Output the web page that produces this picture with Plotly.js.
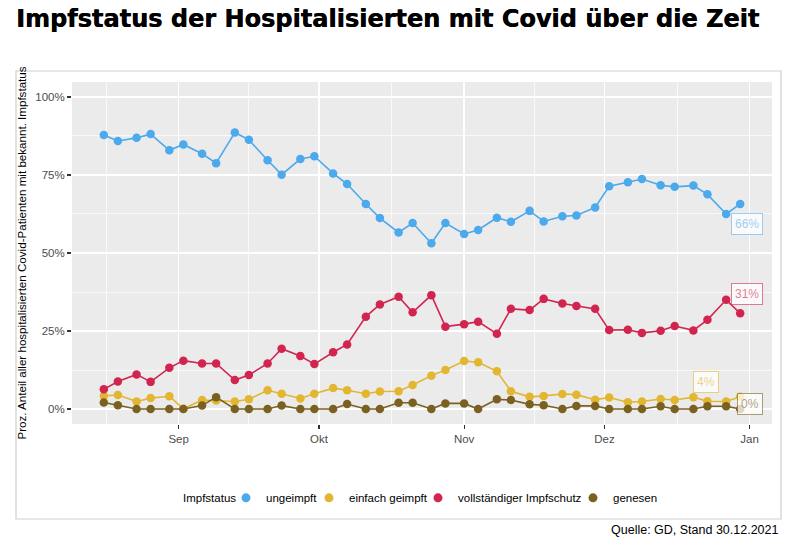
<!DOCTYPE html>
<html>
<head>
<meta charset="utf-8">
<script src="https://cdn.plot.ly/plotly-3.0.1.min.js"></script>
<style>html,body{margin:0;padding:0;background:#fff;}#chart{width:800px;height:540px;}</style>
</head>
<body>
<div id="chart"></div>
<script>
const dates = ['2021-08-16','2021-08-19','2021-08-23','2021-08-26','2021-08-30','2021-09-02','2021-09-06','2021-09-09','2021-09-13','2021-09-16','2021-09-20','2021-09-23','2021-09-27','2021-09-30','2021-10-04','2021-10-07','2021-10-11','2021-10-14','2021-10-18','2021-10-21','2021-10-25','2021-10-28','2021-11-01','2021-11-04','2021-11-08','2021-11-11','2021-11-15','2021-11-18','2021-11-22','2021-11-25','2021-11-29','2021-12-02','2021-12-06','2021-12-09','2021-12-13','2021-12-16','2021-12-20','2021-12-23','2021-12-27','2021-12-30'];

const ungeimpft = [87.8,85.9,86.9,88.1,82.9,84.8,81.8,78.8,88.6,86.3,79.7,75.1,80.1,81.0,75.5,72.1,65.7,61.2,56.6,59.6,53.1,59.6,56.1,57.4,61.3,60.0,63.5,60.1,61.8,62.0,64.6,71.4,72.7,73.7,71.7,71.2,71.6,68.8,62.5,65.7];
const einfachGeimpft = [4.2,4.5,2.4,3.5,4.1,0.1,2.9,2.7,2.4,3.1,6.0,4.9,3.4,4.9,6.7,6.0,4.9,5.6,5.7,7.7,10.7,12.5,15.4,15.0,12.1,5.7,3.9,4.2,4.8,4.6,3.0,3.7,2.2,2.4,3.2,2.9,3.8,2.5,2.4,3.9];
const vollstaendig = [6.3,8.8,11.1,8.7,13.2,15.5,14.6,14.6,9.3,10.9,14.6,19.3,17.0,14.4,18.2,20.7,29.6,33.5,36.0,31.0,36.5,26.4,27.2,28.0,24.1,32.1,31.7,35.3,33.8,33.0,32.1,25.3,25.4,24.4,25.1,26.6,25.2,28.6,35.0,30.7];
const genesen = [2.1,1.2,0,0,0,0,1.1,3.8,0,0,0,1.1,0,0,0,1.6,0,0,2.0,2.0,0,1.8,1.8,0,3.1,2.9,1.5,1.2,0,1.0,1.0,0,0,0,0.9,0,0,0.9,0.9,0];

const seriesNames = ['ungeimpft','einfach geimpft','vollständiger Impfschutz','genesen'];
const seriesValues = [ungeimpft, einfachGeimpft, vollstaendig, genesen];
const colors = ['#4BA9EC','#E2B630','#D1244F','#7B6121'];
const fadedColors = ['rgba(75,169,236,0.55)','rgba(226,182,48,0.6)','rgba(209,36,79,0.6)','rgba(123,97,33,0.6)'];
const labelShift = [[7,-20],[-34,15],[7,19],[10,5]];

const yTickVals = [0,25,50,75,100];
const yTickText = ['0%','25%','50%','75%','100%'];
const yMinor = [12.5,37.5,62.5,87.5];
const xTickVals = ['2021-09-01','2021-10-01','2021-11-01','2021-12-01','2022-01-01'];
const xTickText = ['Sep','Okt','Nov','Dez','Jan'];
const xMinor = ['2021-08-16 12:00','2021-09-16','2021-10-16 12:00','2021-11-16','2021-12-16 12:00'];

const FONT = 'Liberation Sans, Arial, Helvetica, sans-serif';
const legendIds = ['legend','legend2','legend3','legend4'];
const legendLeftPx = [226, 309, 418, 573];

const traces = [];
seriesNames.forEach((name, i) => {
  traces.push({
    x: dates, y: seriesValues[i], name: name, type: 'scatter', mode: 'lines+markers',
    line: {color: colors[i], width: 1.6},
    marker: {color: colors[i], size: 8.5},
    showlegend: false, hoverinfo: 'skip'
  });
});
seriesNames.forEach((name, i) => {
  traces.push({
    x: [null], y: [null], name: name, type: 'scatter', mode: 'markers',
    marker: {color: colors[i], size: 9}, showlegend: true, legend: legendIds[i]
  });
});

const last = dates.length - 1;
const annotations = seriesNames.map((name, i) => ({
  x: dates[last], y: seriesValues[i][last], xref: 'x', yref: 'y',
  text: Math.round(seriesValues[i][last]) + '%',
  showarrow: false, xshift: labelShift[i][0], yshift: labelShift[i][1],
  font: {family: FONT, size: 12, color: fadedColors[i]},
  bgcolor: 'rgba(255,255,255,0.75)', bordercolor: fadedColors[i], borderwidth: 1, borderpad: 3
}));
annotations.push({
  xref: 'paper', yref: 'paper', x: 1.0129, y: -0.31, xanchor: 'right', yanchor: 'middle',
  text: 'Quelle: GD, Stand 30.12.2021', showarrow: false,
  font: {family: FONT, size: 12.5, color: '#000'}
});
annotations.push({
  xref: 'paper', yref: 'paper', x: (181 - 72) / 700, y: -0.216, xanchor: 'left', yanchor: 'middle',
  text: 'Impfstatus', showarrow: false,
  font: {family: FONT, size: 11.5, color: '#000'}
});

const legendFont = {family: FONT, size: 11.5, color: '#000'};
const layout = {
  width: 800, height: 540,
  margin: {l: 72, r: 28, t: 82, b: 116},
  paper_bgcolor: '#fff', plot_bgcolor: '#EBEBEB',
  font: {family: FONT, size: 11.5, color: '#4D4D4D'},
  title: {
    text: 'Impfstatus der Hospitalisierten mit Covid über die Zeit',
    xref: 'container', yref: 'container', x: 16/800, xanchor: 'left', y: 1 - 19/540, yanchor: 'middle',
    font: {family: 'DejaVu Sans, sans-serif', size: 24, color: '#000', weight: 'bold', shadow: '0.4px 0 0 #000'}
  },
  xaxis: {
    type: 'date', range: ['2021-08-09 04:48', '2022-01-05 19:12'],
    tickmode: 'array', tickvals: xTickVals, ticktext: xTickText,
    showgrid: true, gridcolor: '#fff', gridwidth: 1.5,
    minor: {tickmode: 'array', tickvals: xMinor, showgrid: true, gridcolor: '#fff', gridwidth: 0.7, ticklen: 0},
    ticks: 'outside', ticklen: 4, tickwidth: 1.2, tickcolor: '#333',
    tickfont: {family: FONT, size: 11.5, color: '#4D4D4D'},
    zeroline: false, showline: false, fixedrange: true
  },
  yaxis: {
    range: [-4.8, 104.8],
    tickmode: 'array', tickvals: yTickVals, ticktext: yTickText,
    showgrid: true, gridcolor: '#fff', gridwidth: 1.5,
    minor: {tickmode: 'array', tickvals: yMinor, showgrid: true, gridcolor: '#fff', gridwidth: 0.7, ticklen: 0},
    ticks: 'outside', ticklen: 4, tickwidth: 1.2, tickcolor: '#333',
    tickfont: {family: FONT, size: 11.5, color: '#4D4D4D'},
    zeroline: false, showline: false, fixedrange: true,
    title: {text: 'Proz. Anteil aller hospitalisierten Covid-Patienten mit bekannt. Impfstatus',
      font: {family: FONT, size: 11.6, color: '#000'}, standoff: 6}
  },
  shapes: [{
    type: 'rect', xref: 'paper', yref: 'paper', x0: -0.08, x1: 1.0129, y0: -0.2778, y1: 1.0322,
    line: {color: '#CFCFCF', width: 1.2}, fillcolor: 'rgba(0,0,0,0)', layer: 'below'
  }],
  annotations: annotations,
  hovermode: false
};
legendIds.forEach((id, i) => {
  layout[id] = {
    orientation: 'h', x: (legendLeftPx[i] - 72) / 700, xanchor: 'left', y: -0.216, yanchor: 'middle',
    font: legendFont, bgcolor: 'rgba(0,0,0,0)', itemwidth: 30
  };
});

Plotly.newPlot('chart', traces, layout, {staticPlot: true, displayModeBar: false});
</script>
</body>
</html>
